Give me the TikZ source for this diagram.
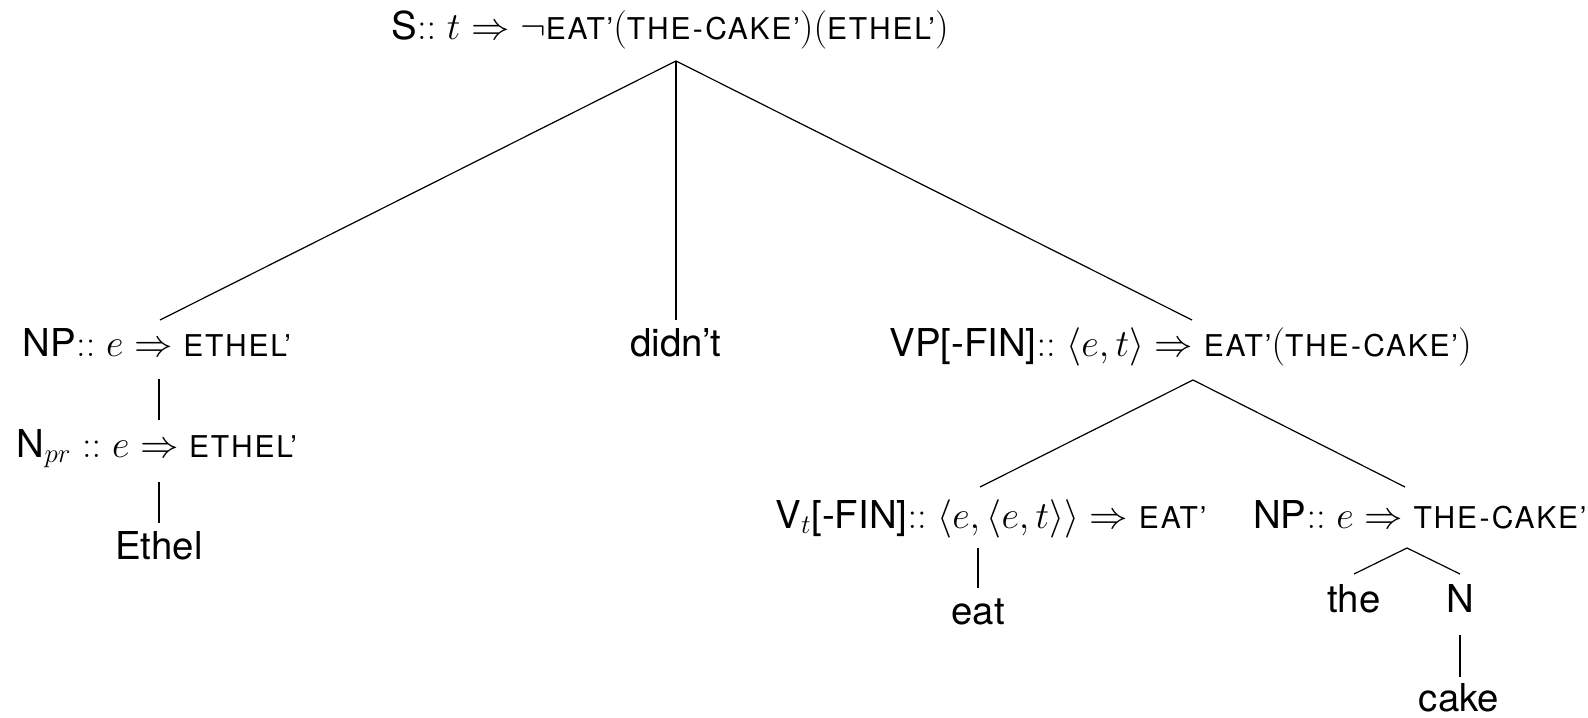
\RequirePackage{fix-cm}
\documentclass[tikz,border=0pt]{standalone}
\usepackage[no-math]{fontspec}
\setmainfont{TeX Gyre Heros}
% reduced, slightly spaced capitals for the semantic constants
\newfontfamily\capsfont{TeX Gyre Heros}[Ligatures=TeX, LetterSpace=6]
\newcommand\bodysize{\fontsize{19.2}{23}\selectfont}
\newcommand\smc[1]{{\capsfont\fontsize{15}{18}\selectfont #1}}
\newcommand\hy{\kern1.2pt-\kern1.2pt}
\newcommand\dc{{:}{:}}
\begin{document}
\begin{tikzpicture}[x=0.5pt,y=-0.5pt,
  lbl/.style={inner sep=0pt, anchor=base, font=\bodysize},
  edge/.style={line width=0.6pt, draw=black}]
\useasboundingbox (0,0) rectangle (1588,717);

% ---- labels ----
\node[lbl] (S)     at (670,40)   {S$\dc$ $t\Rightarrow\neg$\smc{EAT'}$($\smc{THE\hy CAKE'}$)($\smc{ETHEL'}$)$};
\node[lbl] (NP)    at (157,356)  {NP$\dc$ $e\Rightarrow$ \smc{ETHEL'}};
\node[lbl] (didnt) at (676,356)  {didn't};
\node[lbl, anchor=base west] (VP) at (889,356) {VP[-FIN]$\dc$ $\langle e,t\rangle\Rightarrow$ \smc{EAT'}$($\smc{THE\hy CAKE'}$)$};
\node[lbl] (Npr)   at (157,457)  {N$_{pr}$ $\dc$ $e\Rightarrow$ \smc{ETHEL'}};
\node[lbl] (Ethel) at (159,559)  {Ethel};
\node[lbl, anchor=base west] (Vt) at (775,528) {V$_t$[-FIN]$\dc$ $\langle e,\langle e,t\rangle\rangle\Rightarrow$ \smc{EAT'}};
\node[lbl, anchor=base east] (NPo) at (1587,528) {NP$\dc$ $e\Rightarrow$ \smc{THE\hy CAKE'}};
\node[lbl] (eat)   at (978,624)  {eat};
\node[lbl] (the)   at (1354,612) {the};
\node[lbl] (N)     at (1460,612) {N};
\node[lbl] (cake)  at (1459,711) {cake};

% ---- attachment points of the branches ----
\coordinate (S-b)     at (676,61);
\coordinate (NP-t)    at (160,320);
\coordinate (didnt-t) at (676,320);
\coordinate (VP-t)    at (1192,320);
\coordinate (NP-b)    at (159,379);
\coordinate (Npr-t)   at (159,420);
\coordinate (Npr-b)   at (159,482);
\coordinate (Ethel-t) at (159,523);
\coordinate (VP-b)    at (1193,380);
\coordinate (Vt-t)    at (980,487);
\coordinate (NPo-t)   at (1405,487);
\coordinate (Vt-b)    at (978,548);
\coordinate (eat-t)   at (978,588);
\coordinate (NPo-b)   at (1407,548);
\coordinate (the-t)   at (1354,574);
\coordinate (N-t)     at (1460,574);
\coordinate (N-b)     at (1460,635);
\coordinate (cake-t)  at (1460,677);

% ---- branches ----
\draw[edge] (S-b) -- (NP-t);
\draw[edge] (S-b) -- (didnt-t);
\draw[edge] (S-b) -- (VP-t);
\draw[edge] (NP-b) -- (Npr-t);
\draw[edge] (Npr-b) -- (Ethel-t);
\draw[edge] (VP-b) -- (Vt-t);
\draw[edge] (VP-b) -- (NPo-t);
\draw[edge] (Vt-b) -- (eat-t);
\draw[edge] (NPo-b) -- (the-t);
\draw[edge] (NPo-b) -- (N-t);
\draw[edge] (N-b) -- (cake-t);
\end{tikzpicture}
\end{document}
